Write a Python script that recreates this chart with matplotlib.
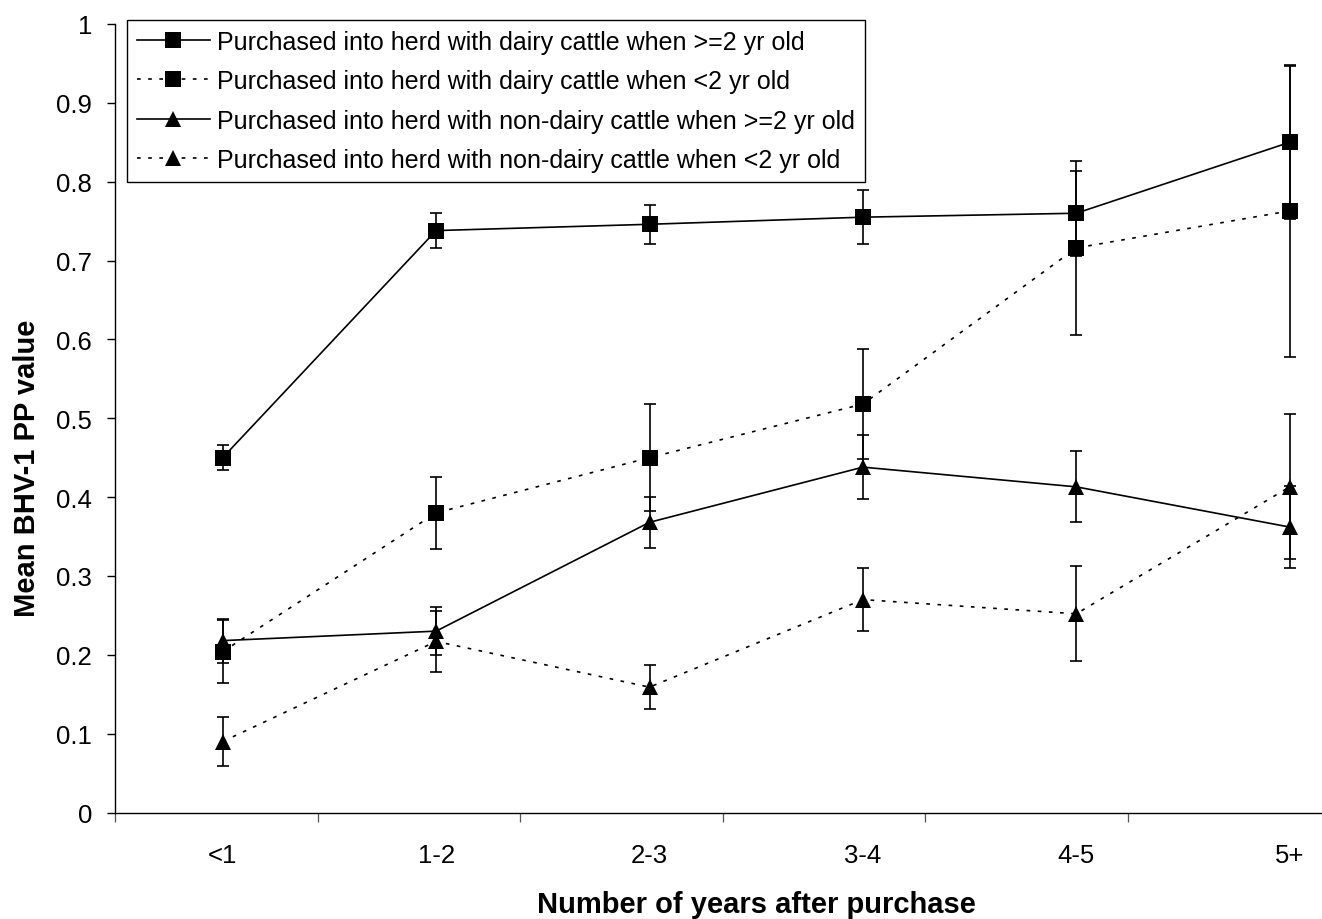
import numpy as np
import matplotlib
matplotlib.use('Agg')
import matplotlib.pyplot as plt
from matplotlib.ticker import FixedLocator, NullFormatter, FixedFormatter

plt.rcParams['font.family'] = ['Liberation Sans', 'DejaVu Sans']

# mean BHV-1 PP value by years after purchase, +/- error
years = ['<1', '1-2', '2-3', '3-4', '4-5', '5+']
dairy_old = [0.450, 0.738, 0.746, 0.755, 0.760, 0.850]
dairy_old_err = [0.016, 0.0225, 0.025, 0.034, 0.054, 0.097]
dairy_young = [0.204, 0.380, 0.450, 0.518, 0.716, 0.763]
dairy_young_err = [0.040, 0.046, 0.068, 0.070, 0.110, 0.185]
nondairy_old = [0.218, 0.230, 0.368, 0.438, 0.413, 0.362]
nondairy_old_err = [0.028, 0.030, 0.032, 0.041, 0.045, 0.052]
nondairy_young = [0.090, 0.217, 0.159, 0.270, 0.252, 0.413]
nondairy_young_err = [0.031, 0.039, 0.028, 0.040, 0.060, 0.092]

labels = ['Purchased into herd with dairy cattle when >=2 yr old',
          'Purchased into herd with dairy cattle when <2 yr old',
          'Purchased into herd with non-dairy cattle when >=2 yr old',
          'Purchased into herd with non-dairy cattle when <2 yr old']

W, H = 1322, 920
fig = plt.figure(figsize=(W / 100, H / 100), dpi=100)
ax = fig.add_axes([115.5 / W, 1 - 813.5 / H, 1 - 115.5 / W, (813.5 - 25) / H])

x = np.arange(len(years))
series = [
    (dairy_old, dairy_old_err, 's', None),
    (dairy_young, dairy_young_err, 's', (2.2, 4.5)),
    (nondairy_old, nondairy_old_err, '^', None),
    (nondairy_young, nondairy_young_err, '^', (2.2, 4.5)),
]
handles = []
for (y, e, m, dash), lab in zip(series, labels):
    ax.errorbar(x, y, yerr=e, fmt='none', ecolor='k', elinewidth=1.2,
                capsize=4, capthick=1.2, zorder=3)
    line, = ax.plot(x, y, color='k', lw=1.2, marker=m, ms=11.5,
                    markeredgewidth=0, label=lab, zorder=4)
    if dash is not None:
        line.set_dashes(dash)
    handles.append(line)

# points are spaced wider than the category tick marks in the original
x_left = (115.5 - 222.7) / 213.4
x_right = (W - 222.7) / 213.4
ax.set_xlim(x_left, x_right)
ax.set_ylim(0, 1)

step = 202.4 / 213.4
ax.xaxis.set_major_locator(FixedLocator([x_left + k * step for k in range(6)]))
ax.xaxis.set_major_formatter(NullFormatter())
ax.xaxis.set_minor_locator(FixedLocator(x))
ax.xaxis.set_minor_formatter(FixedFormatter(years))
ax.tick_params(axis='x', which='major', direction='out', length=6.5,
               width=0.9, color='#555555')
ax.tick_params(axis='x', which='minor', length=0, pad=22, labelsize=18.5)

ax.set_yticks(np.arange(0, 1.01, 0.1))
ax.set_yticklabels(['%g' % v for v in np.round(np.arange(0, 1.01, 0.1), 1)])
ax.tick_params(axis='y', direction='out', length=5.8, width=1.0,
               pad=11, labelsize=18.5)

for s in ['top', 'right']:
    ax.spines[s].set_visible(False)
for s in ['left', 'bottom']:
    ax.spines[s].set_linewidth(1.0)

fig.text(756 / W, 1 - 905 / H, 'Number of years after purchase',
         ha='center', va='center', fontsize=21, fontweight='bold')
fig.text(27 / W, 1 - 468 / H, 'Mean BHV-1 PP value', rotation=90,
         ha='center', va='center', fontsize=21, fontweight='bold')

leg = ax.legend(handles=handles, loc='upper left',
                bbox_to_anchor=(127 / W, 1 - 20.7 / H),
                bbox_transform=fig.transFigure, fontsize=18,
                frameon=True, fancybox=False, framealpha=1,
                edgecolor='k', borderpad=0.4, labelspacing=0.62,
                handlelength=2.9, handletextpad=0.3, numpoints=1,
                borderaxespad=0)
leg.get_frame().set_linewidth(1.0)

fig.savefig('out.png', dpi=100)
